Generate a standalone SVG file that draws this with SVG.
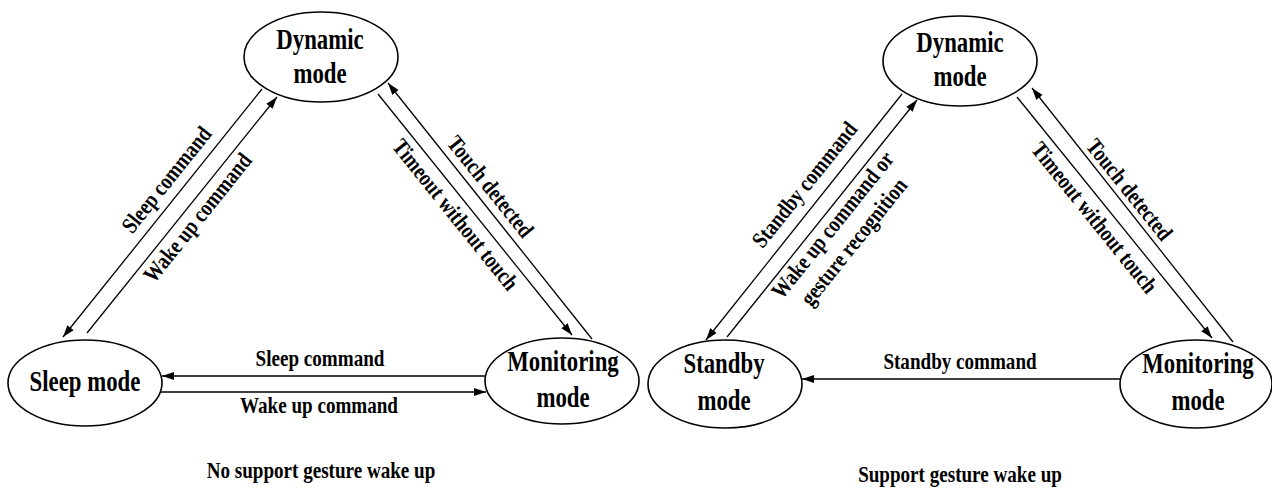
<svg xmlns="http://www.w3.org/2000/svg" width="1272" height="489" viewBox="0 0 1272 489">
<style>
.bg{fill:#fff}
.node ellipse{fill:#fff;stroke:#000;stroke-width:1.6}
text{font-family:"Liberation Serif","Times New Roman",serif;font-weight:bold;fill:#000;text-anchor:middle}
.n{font-size:28.5px}
.e{font-size:23px}
.edges line{stroke:#000;stroke-width:1.3;marker-end:url(#arr)}
</style>
<defs>
<marker id="arr" markerUnits="userSpaceOnUse" markerWidth="12" markerHeight="10" viewBox="0 0 12 10" refX="12" refY="5" orient="auto">
<path d="M0,1 L12,5 L0,9 Z" fill="#000"/>
</marker>
</defs>
<rect class="bg" x="0" y="0" width="1272" height="489"/>

<g id="edges" class="edges">
<line x1="262" y1="89" x2="63" y2="337"/>
<line x1="87" y1="333" x2="277" y2="97"/>
<line x1="378" y1="94" x2="572" y2="335"/>
<line x1="592" y1="339" x2="388" y2="83"/>
<line x1="488" y1="376" x2="162" y2="376"/>
<line x1="160" y1="392" x2="486" y2="392"/>
<line x1="902" y1="94" x2="706" y2="340"/>
<line x1="727" y1="337" x2="917" y2="100"/>
<line x1="1017" y1="97" x2="1212" y2="338"/>
<line x1="1233" y1="342" x2="1032" y2="88"/>
<line x1="1132" y1="379" x2="802" y2="379"/>
</g>

<g id="edge-labels">
<text class="e" transform="translate(167,180) rotate(-51.3) scale(0.83,1)" y="7">Sleep command</text>
<text class="e" transform="translate(198,218) rotate(-51.3) scale(0.83,1)" y="7">Wake up command</text>
<text class="e" transform="translate(455,215) rotate(51.2) scale(0.83,1)" y="7">Timeout without touch</text>
<text class="e" transform="translate(490,187) rotate(51.2) scale(0.83,1)" y="7">Touch detected</text>
<text class="e" transform="translate(320,366) scale(0.83,1)">Sleep command</text>
<text class="e" transform="translate(319,413) scale(0.83,1)">Wake up command</text>
<text class="e" transform="translate(805,185) rotate(-51.3) scale(0.83,1)" y="7">Standby command</text>
<g transform="translate(844,234) rotate(-51.3) scale(0.83,1)">
<text class="e" y="-7">Wake up command or</text>
<text class="e" y="20">gesture recognition</text>
</g>
<text class="e" transform="translate(1094,218) rotate(51.2) scale(0.83,1)" y="7">Timeout without touch</text>
<text class="e" transform="translate(1129,190) rotate(51.2) scale(0.83,1)" y="7">Touch detected</text>
<text class="e" transform="translate(960,369) scale(0.83,1)">Standby command</text>
</g>

<g id="node-dynamic-left" class="node">
<ellipse cx="321" cy="57" rx="77" ry="45"/>
<text class="n" transform="translate(320,48.5) scale(0.8,1)">Dynamic</text>
<text class="n" transform="translate(320,83) scale(0.8,1)">mode</text>
</g>
<g id="node-sleep" class="node">
<ellipse cx="85" cy="383" rx="77" ry="43"/>
<text class="n" transform="translate(85,391) scale(0.8,1)">Sleep mode</text>
</g>
<g id="node-monitoring-left" class="node">
<ellipse cx="562" cy="381" rx="77" ry="43"/>
<text class="n" transform="translate(563,371) scale(0.8,1)">Monitoring</text>
<text class="n" transform="translate(563,407) scale(0.8,1)">mode</text>
</g>
<g id="node-dynamic-right" class="node">
<ellipse cx="960" cy="61" rx="77" ry="45"/>
<text class="n" transform="translate(960,52) scale(0.8,1)">Dynamic</text>
<text class="n" transform="translate(960,86) scale(0.8,1)">mode</text>
</g>
<g id="node-standby" class="node">
<ellipse cx="725" cy="384" rx="77" ry="44"/>
<text class="n" transform="translate(724,373) scale(0.8,1)">Standby</text>
<text class="n" transform="translate(724,410) scale(0.8,1)">mode</text>
</g>
<g id="node-monitoring-right" class="node">
<ellipse cx="1196" cy="384" rx="76" ry="44"/>
<text class="n" transform="translate(1198,373) scale(0.8,1)">Monitoring</text>
<text class="n" transform="translate(1198,410) scale(0.8,1)">mode</text>
</g>

<g id="captions">
<text class="e" transform="translate(321,478) scale(0.83,1)">No support gesture wake up</text>
<text class="e" transform="translate(960,482) scale(0.83,1)">Support gesture wake up</text>
</g>
</svg>
